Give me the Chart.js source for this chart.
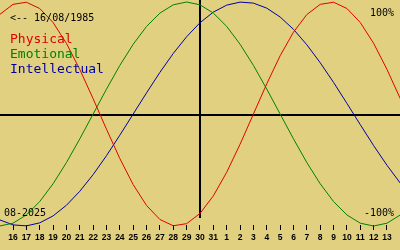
<!DOCTYPE html>
<html>
<head>
<meta charset="utf-8">
<script src="https://cdn.jsdelivr.net/npm/chart.js@4/dist/chart.umd.min.js"></script>
<style>
  html, body { margin: 0; padding: 0; background: #e0d080; }
  canvas { display: block; }
</style>
</head>
<body>
<canvas id="c" width="400" height="250"></canvas>
<script>
// Days shown (15 Aug .. 14 Sep); 15 Aug and 14 Sep lie just outside the visible area
const days = [15,16,17,18,19,20,21,22,23,24,25,26,27,28,29,30,31,1,2,3,4,5,6,7,8,9,10,11,12,13,14];
const labelledFrom = 1;      // first labelled day (16)
const labelledTo = 29;       // last labelled day (13)
const todayIndex = 15;       // 30 Aug

const physical = [0.888,0.979,0.998,0.942,0.817,0.631,0.398,0.136,-0.136,-0.398,-0.631,-0.817,-0.942,-0.998,-0.979,-0.888,-0.731,-0.520,-0.270,0.000,0.270,0.520,0.731,0.888,0.979,0.998,0.942,0.817,0.631,0.398,0.136];
const emotional = [-1.000,-0.975,-0.901,-0.782,-0.623,-0.434,-0.222,0.000,0.222,0.434,0.623,0.782,0.901,0.975,1.000,0.975,0.901,0.782,0.623,0.434,0.222,0.000,-0.222,-0.434,-0.623,-0.782,-0.901,-0.975,-1.000,-0.975,-0.901];
const intellectual = [-0.945,-0.990,-0.999,-0.972,-0.910,-0.815,-0.690,-0.541,-0.372,-0.189,0.000,0.189,0.372,0.541,0.690,0.815,0.910,0.972,0.999,0.990,0.945,0.866,0.756,0.618,0.458,0.282,0.095,-0.095,-0.282,-0.458,-0.618];

const seriesNames = ['Physical', 'Emotional', 'Intellectual'];
const seriesColors = ['#e00000', '#008000', '#0000a0'];
const navText = '<-- 16/08/1985';
const monthText = '08-2025';
const topText = '100%';
const bottomText = '-100%';

const toPts = arr => arr.map((v, i) => ({ x: i, y: v }));

const overlay = {
  id: 'overlay',
  beforeDatasetsDraw(chart) {
    const { ctx, scales: { x, y }, chartArea } = chart;
    ctx.save();
    ctx.strokeStyle = '#000';
    ctx.lineWidth = 2;
    const y0 = Math.round(y.getPixelForValue(0));
    ctx.beginPath();
    ctx.moveTo(chartArea.left, y0 + 1);
    ctx.lineTo(chartArea.right, y0 + 1);
    ctx.stroke();
    const xt = Math.round(x.getPixelForValue(todayIndex));
    ctx.beginPath();
    ctx.moveTo(xt, chartArea.top);
    ctx.lineTo(xt, chartArea.bottom - 7);
    ctx.stroke();
    ctx.restore();
  },
  afterDatasetsDraw(chart) {
    const { ctx } = chart;
    ctx.save();
    ctx.textBaseline = 'alphabetic';
    ctx.fillStyle = '#000';
    ctx.font = '10px "DejaVu Sans Mono"';
    ctx.textAlign = 'left';
    ctx.fillText(navText, 10, 20.5);
    ctx.fillText(monthText, 4, 216);
    ctx.textAlign = 'right';
    ctx.fillText(topText, 394, 16);
    ctx.fillText(bottomText, 394, 216);
    ctx.textAlign = 'left';
    ctx.font = '13px "DejaVu Sans Mono"';
    seriesNames.forEach((n, i) => {
      ctx.fillStyle = seriesColors[i];
      ctx.fillText(n, 10, 43 + i * 14.8);
    });
    ctx.restore();
  }
};

const mk = (name, data, color) => ({
  label: name,
  data: toPts(data),
  borderColor: color,
  borderWidth: 1,
  pointRadius: 0,
  tension: 0,
  clip: { left: 0, right: 0, top: 3, bottom: 3 }
});

new Chart(document.getElementById('c'), {
  type: 'line',
  data: {
    datasets: [
      mk(seriesNames[0], physical, seriesColors[0]),
      mk(seriesNames[1], emotional, seriesColors[1]),
      mk(seriesNames[2], intellectual, seriesColors[2])
    ]
  },
  options: {
    responsive: false,
    animation: false,
    events: [],
    layout: { padding: 0 },
    plugins: { legend: { display: false }, tooltip: { enabled: false } },
    scales: {
      x: {
        type: 'linear',
        min: 0.0267,
        max: 29.974,
        border: { display: false },
        grid: { drawOnChartArea: false, drawTicks: true, tickLength: 5, color: '#000', lineWidth: 1 },
        afterBuildTicks: s => {
          const t = [];
          for (let i = labelledFrom; i <= labelledTo; i++) t.push({ value: i });
          s.ticks = t;
        },
        afterFit: s => { s.height = 25; },
        ticks: {
          autoSkip: false,
          maxRotation: 0,
          padding: 3,
          color: '#000',
          font: { family: '"Liberation Sans", Arial, sans-serif', size: 8.5, weight: 'bold' },
          callback: v => String(days[v])
        }
      },
      y: {
        display: false,
        min: -0.99107,
        max: 1.01786
      }
    }
  },
  plugins: [overlay]
});
</script>
</body>
</html>
